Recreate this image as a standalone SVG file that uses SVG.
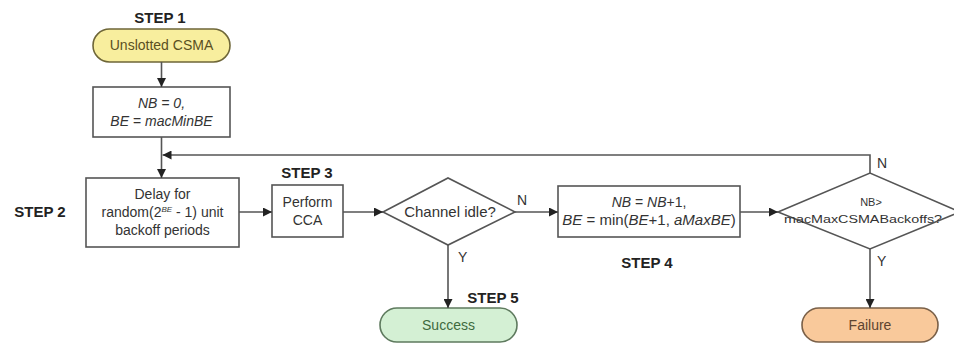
<svg xmlns="http://www.w3.org/2000/svg" width="954" height="345" viewBox="0 0 954 345">
  <defs>
    <style>
      .box { fill: #ffffff; stroke: #555555; stroke-width: 1.6; }
      .line { fill: none; stroke: #555555; stroke-width: 1.6; }
      .t { font-family: "Liberation Sans", Arial, sans-serif; font-size: 14px; fill: #333333; text-anchor: middle; }
      .it { font-style: italic; }
      .step { font-family: "Liberation Sans", Arial, sans-serif; font-size: 15px; font-weight: bold; fill: #222222; text-anchor: middle; }
      .lbl { font-family: "Liberation Sans", Arial, sans-serif; font-size: 14px; fill: #333333; }
    </style>
    <marker id="arrow" viewBox="0 0 10 10" refX="10" refY="5" markerWidth="9" markerHeight="9" markerUnits="userSpaceOnUse" orient="auto">
      <path d="M0,0 L10,5 L0,10 z" fill="#222222"/>
    </marker>
  </defs>

  <rect width="954" height="345" fill="#ffffff"/>

  <!-- step labels -->
  <text class="step" x="160" y="23">STEP 1</text>
  <text class="step" x="40" y="217">STEP 2</text>
  <text class="step" x="307" y="178">STEP 3</text>
  <text class="step" x="647" y="268">STEP 4</text>
  <text class="step" x="493" y="303">STEP 5</text>

  <g id="start">
    <rect x="93" y="29" width="137" height="33" rx="16.5" fill="#f8ee9e" stroke="#6e6638" stroke-width="1.6"/>
    <text class="t" x="161.5" y="50" style="fill:#5a5022">Unslotted CSMA</text>
  </g>

  <g id="init">
    <rect class="box" x="93" y="87" width="137" height="50"/>
    <text class="t it" x="161.5" y="108">NB = 0,</text>
    <text class="t" x="161.5" y="126"><tspan class="it">BE</tspan> = <tspan class="it">macMinBE</tspan></text>
  </g>

  <g id="delay">
    <rect class="box" x="86" y="178" width="153" height="69"/>
    <text class="t" x="162.5" y="199">Delay for</text>
    <text class="t" x="162.5" y="217">random(2<tspan font-size="8" dy="-5" class="it">BE</tspan><tspan dy="5"> - 1) unit</tspan></text>
    <text class="t" x="162.5" y="235">backoff periods</text>
  </g>

  <g id="cca">
    <rect class="box" x="272" y="185" width="71" height="52"/>
    <text class="t" x="307.5" y="207">Perform</text>
    <text class="t" x="307.5" y="225">CCA</text>
  </g>

  <g id="idle">
    <polygon class="box" points="383,212 448,178 515,212 448,245"/>
    <text class="t" x="450" y="217" style="font-size:15px">Channel idle?</text>
  </g>

  <g id="increment">
    <rect class="box" x="558" y="186" width="182" height="51"/>
    <text class="t" x="649" y="207"><tspan class="it">NB</tspan> = <tspan class="it">NB</tspan>+1,</text>
    <text class="t" x="649" y="225" style="font-size:15px"><tspan class="it">BE</tspan> = min(<tspan class="it">BE</tspan>+1, <tspan class="it">aMaxBE</tspan>)</text>
  </g>

  <g id="limit">
    <polygon class="box" points="778,212 870,173 960,212 870,249"/>
    <text class="t" x="871" y="206" style="font-size:11px">NB&gt;</text>
    <text class="t" x="863" y="223" style="font-size:11px" textLength="158" lengthAdjust="spacingAndGlyphs">macMaxCSMABackoffs?</text>
  </g>

  <g id="success">
    <rect x="380" y="308" width="137" height="34" rx="17" fill="#d4f0d4" stroke="#5e7a5e" stroke-width="1.6"/>
    <text class="t" x="448.5" y="330" style="fill:#3e6a3e">Success</text>
  </g>

  <g id="failure">
    <rect x="802" y="308" width="136" height="34" rx="17" fill="#f9c99b" stroke="#7a6048" stroke-width="1.6"/>
    <text class="t" x="870" y="330" style="fill:#5e4430">Failure</text>
  </g>

  <g id="connectors">
    <line class="line" x1="161.5" y1="62" x2="161.5" y2="87" marker-end="url(#arrow)"/>
    <line class="line" x1="161.5" y1="137" x2="161.5" y2="178" marker-end="url(#arrow)"/>
    <line class="line" x1="239" y1="212" x2="272" y2="212" marker-end="url(#arrow)"/>
    <line class="line" x1="343" y1="212" x2="383" y2="212" marker-end="url(#arrow)"/>
    <line class="line" x1="515" y1="212" x2="558" y2="212" marker-end="url(#arrow)"/>
    <line class="line" x1="740" y1="212" x2="778" y2="212" marker-end="url(#arrow)"/>
    <line class="line" x1="448" y1="245" x2="448" y2="308" marker-end="url(#arrow)"/>
    <line class="line" x1="870" y1="249" x2="870" y2="308" marker-end="url(#arrow)"/>
    <polyline class="line" points="870,173 870,155 162.5,155" marker-end="url(#arrow)"/>
    <text class="lbl" x="517" y="205">N</text>
    <text class="lbl" x="458" y="262">Y</text>
    <text class="lbl" x="877" y="168">N</text>
    <text class="lbl" x="877" y="266">Y</text>
  </g>
</svg>
